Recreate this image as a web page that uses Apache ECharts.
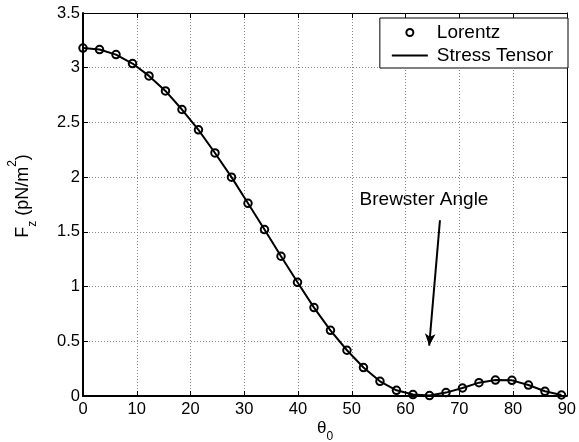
<!DOCTYPE html>
<html>
<head>
<meta charset="utf-8">
<script src="https://cdn.jsdelivr.net/npm/echarts@6/dist/echarts.min.js"></script>
<style>
html,body{margin:0;padding:0;background:#fff;}
#chart{width:579px;height:442px;}
</style>
</head>
<body>
<div id="chart"></div>
<script>
// incidence angle theta_0 (degrees)
const angles = [0, 3.07, 6.14, 9.21, 12.28, 15.34, 18.41, 21.48, 24.55, 27.62,
  30.69, 33.76, 36.83, 39.90, 42.97, 46.03, 49.10, 52.17, 55.24, 58.31,
  61.38, 64.45, 67.52, 70.59, 73.66, 76.72, 79.79, 82.86, 85.93, 89.0];
// F_z computed from Lorentz force (markers)
const lorentz = [3.18, 3.166, 3.12, 3.038, 2.925, 2.788, 2.618, 2.432, 2.221, 2.0,
  1.761, 1.521, 1.277, 1.039, 0.808, 0.60, 0.418, 0.26, 0.134, 0.052,
  0.013, 0.004, 0.031, 0.073, 0.122, 0.146, 0.143, 0.10, 0.043, 0.009];
// F_z computed from Maxwell stress tensor (line)
const stressTensor = [3.18, 3.166, 3.12, 3.038, 2.925, 2.788, 2.618, 2.432, 2.221, 2.0,
  1.761, 1.521, 1.277, 1.039, 0.808, 0.60, 0.418, 0.26, 0.134, 0.052,
  0.013, 0.004, 0.031, 0.073, 0.122, 0.146, 0.143, 0.10, 0.043, 0.009];
const xTicks = {min: 0, max: 90, interval: 10};
const yTicks = {min: 0, max: 3.5, interval: 0.5};
const seriesNames = ['Lorentz', 'Stress Tensor'];
const annotationText = 'Brewster Angle';
const arrowFrom = [66.4, 1.606];
const arrowTo = [64.4, 0.46];

const FONT = 'Liberation Sans, Arial, Helvetica, sans-serif';
const gridDot = {color: '#8a8a8a', width: 1, type: [1, 2]};
const clear = 'rgba(0,0,0,0)';

const chart = echarts.init(document.getElementById('chart'), null, {renderer: 'canvas'});
const option = {
  backgroundColor: '#fff',
  animation: false,
  grid: {left: 83, right: 10, top: 13, bottom: 46, containLabel: false},
  xAxis: [{
    type: 'value', position: 'bottom',
    min: xTicks.min, max: xTicks.max, interval: xTicks.interval,
    axisLine: {show: true, onZero: false, lineStyle: {color: '#000', width: 2}},
    axisTick: {show: true, inside: true, length: 5, lineStyle: {color: '#000', width: 1}},
    axisLabel: {color: '#000', fontFamily: FONT, fontSize: 16.5, margin: 5},
    splitLine: {show: true, lineStyle: gridDot}
  }, {
    type: 'value', position: 'top',
    min: xTicks.min, max: xTicks.max, interval: xTicks.interval,
    axisLine: {show: true, onZero: false, lineStyle: {color: '#000', width: 1}},
    axisTick: {show: true, inside: true, length: 5, lineStyle: {color: '#000', width: 1}},
    axisLabel: {show: false},
    splitLine: {show: false}
  }],
  yAxis: [{
    type: 'value', position: 'left',
    min: yTicks.min, max: yTicks.max, interval: yTicks.interval,
    axisLine: {show: true, onZero: false, lineStyle: {color: '#000', width: 2}},
    axisTick: {show: true, inside: true, length: 5, lineStyle: {color: '#000', width: 1}},
    axisLabel: {color: '#000', fontFamily: FONT, fontSize: 16.5, margin: 3},
    splitLine: {show: true, lineStyle: gridDot}
  }, {
    type: 'value', position: 'right',
    min: yTicks.min, max: yTicks.max, interval: yTicks.interval,
    axisLine: {show: true, onZero: false, lineStyle: {color: '#000', width: 1}},
    axisTick: {show: true, inside: true, length: 5, lineStyle: {color: '#000', width: 1}},
    axisLabel: {show: false},
    splitLine: {show: false}
  }],
  legend: {
    orient: 'vertical', right: 11, top: 18,
    padding: [5, 15, 3, 11],
    itemWidth: 36, itemHeight: 7, itemGap: 4,
    backgroundColor: '#fff', borderColor: '#000', borderWidth: 1, borderRadius: 0,
    textStyle: {fontFamily: FONT, fontSize: 19, color: '#000', lineHeight: 19, padding: [0, 0, 0, 4]},
    data: [
      {name: seriesNames[0], icon: 'circle', itemStyle: {color: '#fff', borderColor: '#000', borderWidth: 2, opacity: 1}},
      {name: seriesNames[1], itemStyle: {color: clear, borderColor: clear, borderWidth: 0}, lineStyle: {color: '#000', width: 2}}
    ]
  },
  series: [{
    name: seriesNames[1],
    type: 'line',
    xAxisIndex: 0, yAxisIndex: 0,
    data: angles.map((a, i) => [a, stressTensor[i]]),
    symbol: 'none',
    showSymbol: false,
    lineStyle: {color: '#000', width: 2},
    itemStyle: {color: '#000'},
    z: 3,
    markLine: {
      silent: true,
      symbol: ['none', 'arrow'],
      symbolSize: [8, 12],
      lineStyle: {color: '#000', width: 2, type: 'solid'},
      label: {show: false},
      data: [[{coord: arrowFrom}, {coord: arrowTo}]]
    }
  }, {
    name: seriesNames[0],
    type: 'scatter',
    xAxisIndex: 0, yAxisIndex: 0,
    data: angles.map((a, i) => [a, lorentz[i]]),
    symbol: 'circle',
    symbolSize: 7.5,
    itemStyle: {color: clear, borderColor: '#000', borderWidth: 2, opacity: 1},
    z: 4
  }],
  graphic: [{
    type: 'text', x: 23, y: 196, rotation: Math.PI / 2,
    style: {
      text: '{m|F}{s|z}{m| (pN/m}{p|2}{m|)}',
      align: 'center', verticalAlign: 'middle',
      rich: {
        m: {fontFamily: FONT, fontSize: 18, lineHeight: 32, fill: '#000', verticalAlign: 'middle'},
        s: {fontFamily: FONT, fontSize: 12, lineHeight: 12, fill: '#000', verticalAlign: 'bottom'},
        p: {fontFamily: FONT, fontSize: 12, lineHeight: 12, fill: '#000', verticalAlign: 'top'}
      }
    }
  }, {
    type: 'text', x: 325, y: 428,
    style: {
      text: '{m|θ}{s|0}',
      align: 'center', verticalAlign: 'middle',
      rich: {
        m: {fontFamily: FONT, fontSize: 17, lineHeight: 30, fill: '#000', verticalAlign: 'middle'},
        s: {fontFamily: FONT, fontSize: 12, lineHeight: 12, fill: '#000', verticalAlign: 'bottom'}
      }
    }
  }, {
    type: 'text', x: 424, y: 200,
    style: {
      text: annotationText, fontFamily: FONT, fontSize: 19, fill: '#000',
      align: 'center', verticalAlign: 'middle'
    }
  }]
};
chart.setOption(option);
</script>
</body>
</html>
